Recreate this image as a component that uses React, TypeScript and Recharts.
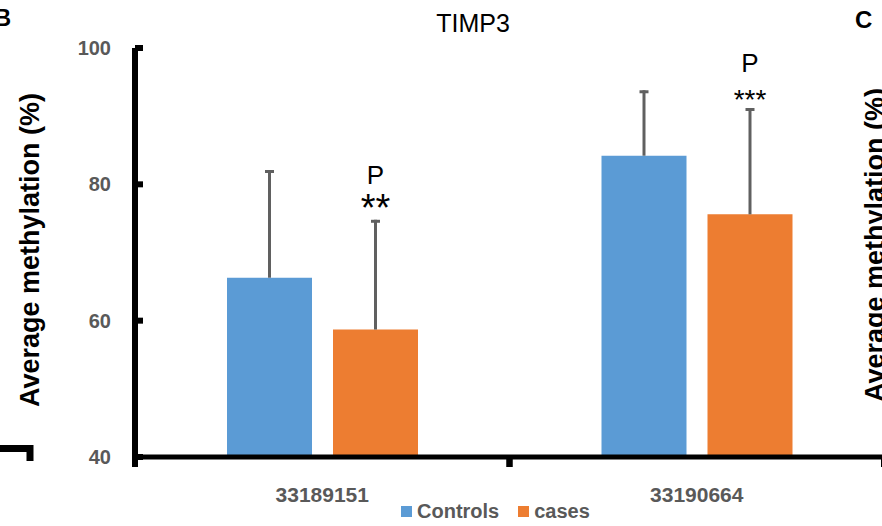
import React from 'react';
import { BarChart, Bar, XAxis, YAxis, Legend, LabelList } from 'recharts';

// CpG site identifiers on the x axis
const sites = ['33189151', '33190664'];
// Mean methylation (%) and standard deviation per group
const controlsMean = [66.3, 84.2];
const controlsSD = [15.8, 9.6];
const casesMean = [58.7, 75.6];
const casesSD = [16.1, 15.6];
// Significance markers drawn above the cases bars
const significance = ['**', '***'];
const yTicks = [40, 60, 80, 100];

const data = sites.map((site, i) => ({
  site,
  controls: controlsMean[i],
  cases: casesMean[i],
  controlsSD: controlsSD[i],
  casesSD: casesSD[i],
}));

const FONT = '"Liberation Sans", Arial, sans-serif';
const BLUE = '#5B9BD5';
const ORANGE = '#ED7D31';
const GREY_TEXT = '#595959';
const WHISKER = '#606060';

const CHART_W = 884;
const CHART_H = 526;
const PLOT_LEFT = 135;
const PLOT_TOP = 48;
const X_AXIS_H = 69;
const starSizes = [38, 28];

// Upper half of the SD whisker, drawn on the stacked segment mean -> mean + SD
const Whisker = (props: any) => {
  const { x, y, width, height } = props;
  if (x == null || y == null) return null;
  const cx = x + width / 2;
  return (
    <g>
      <line x1={cx} x2={cx} y1={y} y2={y + height} stroke={WHISKER} strokeWidth={3} />
      <line x1={cx - 4.5} x2={cx + 4.5} y1={y + 1.5} y2={y + 1.5} stroke={WHISKER} strokeWidth={3} />
    </g>
  );
};

// "P" with the significance stars above each cases whisker
const Annotation = (props: any) => {
  const { x, y, width, index } = props;
  const cx = x + width / 2;
  return (
    <g fontFamily={FONT} fill="#000">
      <text x={cx} y={y - 36} textAnchor="middle" fontSize={26}>
        P
      </text>
      <text x={cx} y={y + 1} textAnchor="middle" fontSize={starSizes[index] ?? 30}>
        {significance[index]}
      </text>
    </g>
  );
};

// Category label plus tick marks on the band boundaries
const CategoryTick = (props: any) => {
  const { x, y, payload } = props;
  const half = payload && payload.offset ? payload.offset : (CHART_W - PLOT_LEFT) / sites.length / 2;
  return (
    <g>
      <rect x={x - half - 3} y={y} width={6} height={10} fill="#000" />
      <rect x={x + half - 3} y={y} width={6} height={10} fill="#000" />
      <text
        x={x}
        y={y + 37}
        textAnchor="middle"
        dominantBaseline="central"
        fontFamily={FONT}
        fontWeight={700}
        fontSize={21}
        fill={GREY_TEXT}
      >
        {payload.value}
      </text>
    </g>
  );
};

const renderLegend = (props: any) => {
  const items = (props.payload || []).filter((p: any) => p.type !== 'none' && !p.inactive);
  return (
    <div
      style={{
        display: 'flex',
        alignItems: 'center',
        fontFamily: FONT,
        fontWeight: 700,
        fontSize: 20,
        color: GREY_TEXT,
        whiteSpace: 'nowrap',
      }}
    >
      {items.map((p: any, i: number) => (
        <span key={i} style={{ display: 'flex', alignItems: 'center', marginRight: 19 }}>
          <span style={{ display: 'inline-block', width: 11, height: 11, background: p.color, marginRight: 5 }} />
          {p.value}
        </span>
      ))}
    </div>
  );
};

export default function App() {
  return (
    <div
      style={{
        position: 'absolute',
        left: 0,
        top: 0,
        width: 882,
        height: 526,
        overflow: 'hidden',
        background: '#fff',
      }}
    >
      <BarChart
        width={CHART_W}
        height={CHART_H}
        data={data}
        margin={{ top: PLOT_TOP, right: 0, bottom: 0, left: 0 }}
        barCategoryGap={92}
        barGap={21}
      >
        <XAxis
          dataKey="site"
          height={X_AXIS_H}
          axisLine={{ stroke: '#000', strokeWidth: 5 }}
          tickLine={false}
          tickSize={0}
          tickMargin={0}
          tick={<CategoryTick />}
          interval={0}
        />
        <XAxis dataKey="site" xAxisId="whisker" hide />
        <YAxis
          width={PLOT_LEFT}
          domain={[40, 100]}
          ticks={yTicks}
          allowDataOverflow
          axisLine={{ stroke: '#000', strokeWidth: 6 }}
          tickLine={{ stroke: '#000', strokeWidth: 6 }}
          tickSize={-8}
          tickMargin={32}
          tick={{ fill: GREY_TEXT, fontSize: 20, fontWeight: 700, fontFamily: FONT }}
        />
        <Legend
          layout="horizontal"
          verticalAlign="middle"
          align="center"
          content={renderLegend}
          wrapperStyle={{ top: 500, left: 401, width: 'auto' }}
        />
        <Bar dataKey="controls" name="Controls" fill={BLUE} isAnimationActive={false} />
        <Bar dataKey="cases" name="cases" fill={ORANGE} isAnimationActive={false} />
        <Bar
          dataKey="controls"
          xAxisId="whisker"
          stackId="ctrl"
          fill="none"
          legendType="none"
          isAnimationActive={false}
        />
        <Bar
          dataKey="controlsSD"
          xAxisId="whisker"
          stackId="ctrl"
          shape={<Whisker />}
          legendType="none"
          isAnimationActive={false}
        />
        <Bar
          dataKey="cases"
          xAxisId="whisker"
          stackId="case"
          fill="none"
          legendType="none"
          isAnimationActive={false}
        />
        <Bar
          dataKey="casesSD"
          xAxisId="whisker"
          stackId="case"
          shape={<Whisker />}
          legendType="none"
          isAnimationActive={false}
        >
          <LabelList dataKey="casesSD" content={<Annotation />} />
        </Bar>
      </BarChart>
      <svg
        width={882}
        height={526}
        style={{ position: 'absolute', left: 0, top: 0, pointerEvents: 'none' }}
      >
        <text x={11} y={26} textAnchor="end" fontFamily={FONT} fontWeight={700} fontSize={23} fill="#000">
          B
        </text>
        <text x={855} y={28} fontFamily={FONT} fontWeight={700} fontSize={24} fill="#000">
          C
        </text>
        <text x={473} y={32} textAnchor="middle" fontFamily={FONT} fontSize={25} fill="#000">
          TIMP3
        </text>
        <text
          transform="translate(30, 250) rotate(-90)"
          textAnchor="middle"
          dominantBaseline="central"
          fontFamily={FONT}
          fontWeight={700}
          fontSize={27}
          fill="#000"
        >
          Average methylation (%)
        </text>
        <text
          transform="translate(875, 245) rotate(-90)"
          textAnchor="middle"
          dominantBaseline="central"
          fontFamily={FONT}
          fontWeight={700}
          fontSize={27}
          fill="#000"
        >
          Average methylation (%)
        </text>
        <path d="M0 448.5 H30 V461" fill="none" stroke="#000" strokeWidth={7} />
      </svg>
    </div>
  );
}
